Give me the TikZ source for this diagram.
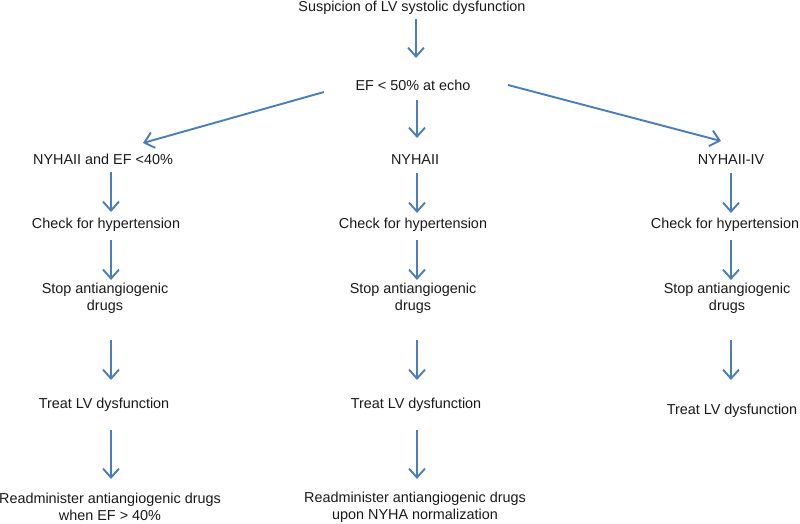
\documentclass[tikz,border=0pt]{standalone}
\usepackage{fontspec}
\setmainfont{Liberation Sans}
\usetikzlibrary{arrows.meta,calc}
\definecolor{arrowblue}{RGB}{74,126,187}
\definecolor{txt}{RGB}{25,25,25}
\begin{document}
\begin{tikzpicture}[x=1pt,y=-1pt,
  lbl/.style={inner sep=0pt, font=\fontsize{14.4}{17}\selectfont, text=txt, align=center},
  arr/.style={draw=arrowblue, line width=1.9pt, -{Straight Barb[length=9pt,width=16pt]}}]
\useasboundingbox (0,0) rectangle (800,523);
% column coordinates for the arrows
\coordinate (cT) at (416,0);
\coordinate (cL) at (111,0);
\coordinate (cM) at (417,0);
\coordinate (cR) at (731,0);
% nodes
\node[lbl] (top) at (412,7.5) {Suspicion of LV systolic dysfunction};
\node[lbl] (ef) at (413,85) {EF < 50\% at echo};
\node[lbl] (l1) at (103,159) {NYHAII and EF <40\%};
\node[lbl] (m1) at (415,160) {NYHAII};
\node[lbl] (r1) at (731,160) {NYHAII-IV};
\node[lbl] (l2) at (106,225) {Check for hypertension};
\node[lbl] (m2) at (413,225) {Check for hypertension};
\node[lbl] (r2) at (725,225) {Check for hypertension};
\node[lbl] (l3) at (105,298) {Stop antiangiogenic\\drugs};
\node[lbl] (m3) at (413,298) {Stop antiangiogenic\\drugs};
\node[lbl] (r3) at (727,298) {Stop antiangiogenic\\drugs};
\node[lbl] (l4) at (104,405) {Treat LV dysfunction};
\node[lbl] (m4) at (416,405) {Treat LV dysfunction};
\node[lbl] (r4) at (732,411) {Treat LV dysfunction};
\node[lbl] (l5) at (110,507) {Readminister antiangiogenic drugs\\when EF > 40\%};
\node[lbl] (m5) at (415,507) {Readminister antiangiogenic drugs\\upon NYHA normalization};
% arrows
\draw[arr] ($(top.center -| cT)+(0,11)$) -- ($(ef.center -| cT)+(0,-27)$);
\draw[arr] ($(ef.center)+(-89,7)$) -- ($(l1.center)+(40,-16)$);
\draw[arr] ($(ef.center -| cM)+(0,15)$) -- ($(m1.center -| cM)+(0,-22)$);
\draw[arr] ($(ef.center)+(95,0)$) -- ($(r1.center)+(-10,-19)$);
% left column
\draw[arr] ($(l1.center -| cL)+(0,13)$) -- ($(l2.center -| cL)+(0,-13)$);
\draw[arr] ($(l2.center -| cL)+(0,15)$) -- ($(l3.center -| cL)+(0,-18)$);
\draw[arr] ($(l3.center -| cL)+(0,42)$) -- ($(l4.center -| cL)+(0,-25)$);
\draw[arr] ($(l4.center -| cL)+(0,25)$) -- ($(l5.center -| cL)+(0,-28)$);
% middle column
\draw[arr] ($(m1.center -| cM)+(0,13)$) -- ($(m2.center -| cM)+(0,-12)$);
\draw[arr] ($(m2.center -| cM)+(0,15)$) -- ($(m3.center -| cM)+(0,-18)$);
\draw[arr] ($(m3.center -| cM)+(0,42)$) -- ($(m4.center -| cM)+(0,-25)$);
\draw[arr] ($(m4.center -| cM)+(0,25)$) -- ($(m5.center -| cM)+(0,-28)$);
% right column
\draw[arr] ($(r1.center -| cR)+(0,13)$) -- ($(r2.center -| cR)+(0,-12)$);
\draw[arr] ($(r2.center -| cR)+(0,15)$) -- ($(r3.center -| cR)+(0,-18)$);
\draw[arr] ($(r3.center -| cR)+(0,42)$) -- ($(r4.center -| cR)+(0,-31)$);
\end{tikzpicture}
\end{document}
